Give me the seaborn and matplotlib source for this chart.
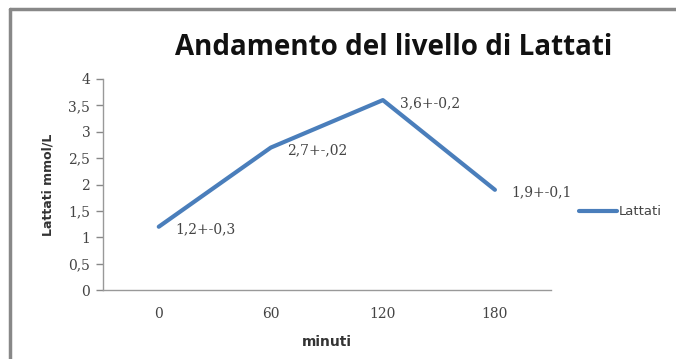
import matplotlib.pyplot as plt
import pandas as pd
import seaborn as sns
from matplotlib.lines import Line2D

minuti = ['0', '60', '120', '180']
lattati = [1.2, 2.7, 3.6, 1.9]
etichette = ['1,2+-0,3', '2,7+-,02', '3,6+-0,2', '1,9+-0,1']
y_ticks = [0, 0.5, 1, 1.5, 2, 2.5, 3, 3.5, 4]

sns.set_style('white')
plt.rcParams['font.family'] = ['DejaVu Sans']

df = pd.DataFrame({'minuti': minuti, 'Lattati': lattati})

fig = plt.figure(figsize=(6.76, 3.59), dpi=100)
ax = fig.add_axes([0.152, 0.192, 0.663, 0.588])

sns.lineplot(data=df, x='minuti', y='Lattati', color='#4a7ebb', linewidth=3,
             label='Lattati', ax=ax, sort=False)

ax.set_xlim(-0.5, 3.5)
ax.set_ylim(0, 4)
ax.set_yticks(y_ticks)
ax.set_yticklabels([f'{t:g}'.replace('.', ',') for t in y_ticks])
ax.set_xticks(range(len(minuti)))
ax.set_xticklabels(minuti)
ax.set_xticks([i - 0.5 for i in range(len(minuti) + 1)], minor=True)
ax.tick_params(axis='x', which='major', length=0, pad=12)
ax.tick_params(axis='x', which='minor', length=4, color='#888888', width=1, direction='out')
ax.tick_params(axis='y', length=5, color='#888888', width=1, direction='out', left=True, pad=4)
for lab in ax.get_xticklabels() + ax.get_yticklabels():
    lab.set_fontfamily('DejaVu Serif')
    lab.set_fontsize(10)
    lab.set_color('#444444')

for s in ['top', 'right']:
    ax.spines[s].set_visible(False)
for s in ['left', 'bottom']:
    ax.spines[s].set_color('#999999')
    ax.spines[s].set_linewidth(1)

ax.set_xlabel('minuti', fontsize=10, fontweight='bold', color='#333333', labelpad=10)
ax.set_ylabel('Lattati mmol/L', fontsize=9, fontweight='bold', color='#333333', labelpad=10)

for i, (v, t) in enumerate(zip(lattati, etichette)):
    ax.annotate(t, (i, v), xytext=(12, -2), textcoords='offset points',
                ha='left', va='center', fontsize=10, fontfamily='DejaVu Serif', color='#444444')

fig.text(0.582, 0.868, 'Andamento del livello di Lattati', ha='center', va='center',
         fontsize=20, fontweight='bold', fontfamily='Open Sans', color='#111111')

leg = ax.legend(loc='center left', bbox_to_anchor=(1.035, 0.37), frameon=False,
                fontsize=9.5, handlelength=2.9, handletextpad=0.15)
for txt in leg.get_texts():
    txt.set_color('#444444')

fig.add_artist(Line2D([0.0148, 0.0148], [0, 0.975], transform=fig.transFigure, color='#888888', linewidth=2.5))
fig.add_artist(Line2D([0.0148, 1.0], [0.975, 0.975], transform=fig.transFigure, color='#888888', linewidth=2.5))

fig.savefig('out.png', dpi=100)
